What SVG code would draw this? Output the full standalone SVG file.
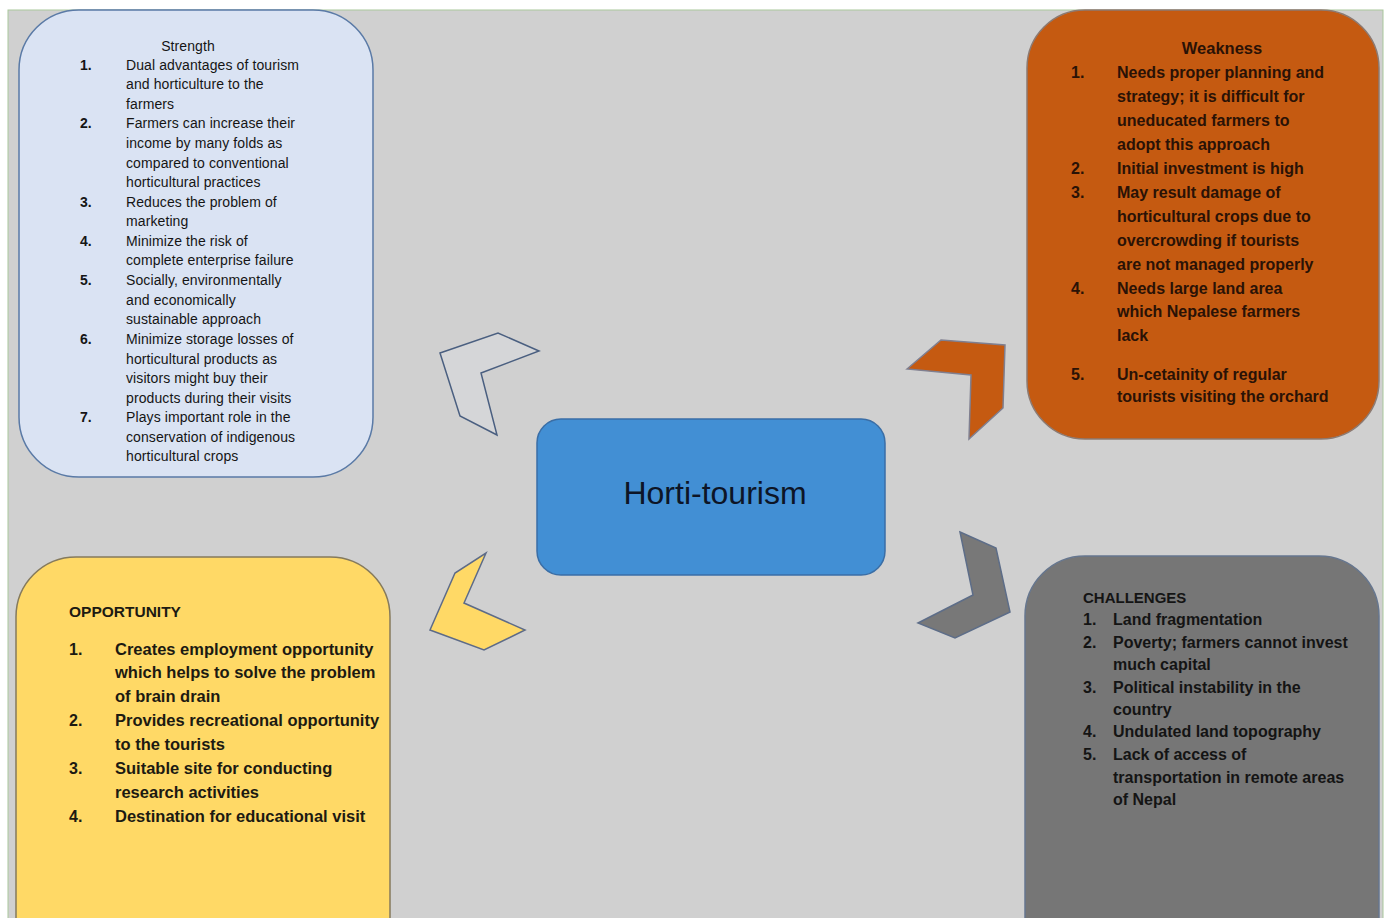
<svg xmlns="http://www.w3.org/2000/svg" width="1387" height="918" viewBox="0 0 1387 918">
<style>
.s{font-family:"Liberation Sans",Arial,sans-serif;font-size:14px;fill:#151515;letter-spacing:0.1px}
.sb{font-family:"Liberation Sans",Arial,sans-serif;font-size:14px;fill:#151515;font-weight:bold}
.w{font-family:"Liberation Sans",Arial,sans-serif;font-size:16px;font-weight:bold;fill:#2a1206}
.o{font-family:"Liberation Sans",Arial,sans-serif;font-size:16.5px;font-weight:bold;fill:#1c1a12}
.c{font-family:"Liberation Sans",Arial,sans-serif;font-size:16px;font-weight:bold;fill:#141414}
.n{font-size:16px}
.chev{stroke-width:1.5;stroke-linejoin:miter}
</style>
<rect x="0" y="0" width="1387" height="918" fill="#ffffff"/>
<rect x="8" y="10" width="1375" height="912" fill="#d0d0d0" stroke="#a9c79c" stroke-width="1"/>

<g id="connectors">
  <polygon class="chev" points="440,353 498,333 539,351 481,373 497,435 460,416" fill="#d5d6d8" stroke="#4a5f80"/>
  <polygon class="chev" points="907,369 941,340 1005,345 1003,408 969,439 971,375" fill="#c55a11" stroke="#7f7f90"/>
  <polygon class="chev" points="486,553 464,603 525,630 484,650 430,630 455,573" fill="#ffd966" stroke="#5d6b88"/>
  <polygon class="chev" points="960,532 996,548 1010,612 955,638 918,623 973,595" fill="#787878" stroke="#5d6d88"/>
</g>

<g id="center">
  <rect x="537" y="419" width="348" height="156" rx="24" fill="#428fd4" stroke="#3a6ea6" stroke-width="1.5"/>
  <text x="715" y="504" text-anchor="middle" style="font-family:'Liberation Sans',Arial,sans-serif;font-size:32px;fill:#0d1526">Horti-tourism</text>
</g>

<g id="strength">
  <rect x="19" y="10" width="354" height="467" rx="60" fill="#dae3f3" stroke="#5a7aa6" stroke-width="1.5"/>
  <text class="s" x="188" y="51" text-anchor="middle">Strength</text>
  <text class="sb" x="80" y="70">1.</text>
  <text class="s" x="126" y="70">Dual advantages of tourism</text>
  <text class="s" x="126" y="89">and horticulture to the</text>
  <text class="s" x="126" y="109">farmers</text>
  <text class="sb" x="80" y="128">2.</text>
  <text class="s" x="126" y="128">Farmers can increase their</text>
  <text class="s" x="126" y="148">income by many folds as</text>
  <text class="s" x="126" y="168">compared to conventional</text>
  <text class="s" x="126" y="187">horticultural practices</text>
  <text class="sb" x="80" y="207">3.</text>
  <text class="s" x="126" y="207">Reduces the problem of</text>
  <text class="s" x="126" y="226">marketing</text>
  <text class="sb" x="80" y="246">4.</text>
  <text class="s" x="126" y="246">Minimize the risk of</text>
  <text class="s" x="126" y="265">complete enterprise failure</text>
  <text class="sb" x="80" y="285">5.</text>
  <text class="s" x="126" y="285">Socially, environmentally</text>
  <text class="s" x="126" y="305">and economically</text>
  <text class="s" x="126" y="324">sustainable approach</text>
  <text class="sb" x="80" y="344">6.</text>
  <text class="s" x="126" y="344">Minimize storage losses of</text>
  <text class="s" x="126" y="364">horticultural products as</text>
  <text class="s" x="126" y="383">visitors might buy their</text>
  <text class="s" x="126" y="403">products during their visits</text>
  <text class="sb" x="80" y="422">7.</text>
  <text class="s" x="126" y="422">Plays important role in the</text>
  <text class="s" x="126" y="442">conservation of indigenous</text>
  <text class="s" x="126" y="461">horticultural crops</text>
</g>

<g id="weakness">
  <rect x="1027" y="10" width="352" height="429" rx="58" fill="#c55a11" stroke="#8c7a72" stroke-width="1.5"/>
  <text class="w" x="1222" y="54" text-anchor="middle" style="font-size:16.5px">Weakness</text>
  <text class="w n" x="1071" y="78">1.</text>
  <text class="w" x="1117" y="78">Needs proper planning and</text>
  <text class="w" x="1117" y="102">strategy; it is difficult for</text>
  <text class="w" x="1117" y="126">uneducated farmers to</text>
  <text class="w" x="1117" y="150">adopt this approach</text>
  <text class="w n" x="1071" y="174">2.</text>
  <text class="w" x="1117" y="174">Initial investment is high</text>
  <text class="w n" x="1071" y="198">3.</text>
  <text class="w" x="1117" y="198">May result damage of</text>
  <text class="w" x="1117" y="222">horticultural crops due to</text>
  <text class="w" x="1117" y="246">overcrowding if tourists</text>
  <text class="w" x="1117" y="270">are not managed properly</text>
  <text class="w n" x="1071" y="294">4.</text>
  <text class="w" x="1117" y="294">Needs large land area</text>
  <text class="w" x="1117" y="317">which Nepalese farmers</text>
  <text class="w" x="1117" y="341">lack</text>
  <text class="w n" x="1071" y="380">5.</text>
  <text class="w" x="1117" y="380">Un-cetainity of regular</text>
  <text class="w" x="1117" y="402">tourists visiting the orchard</text>
</g>

<g id="opportunity">
  <rect x="16" y="557" width="374" height="420" rx="60" fill="#ffd966" stroke="#857a5c" stroke-width="1.5"/>
  <text class="o" x="69" y="617" style="font-size:15.5px">OPPORTUNITY</text>
  <text class="o n" x="69" y="655">1.</text>
  <text class="o" x="115" y="655">Creates employment opportunity</text>
  <text class="o" x="115" y="678">which helps to solve the problem</text>
  <text class="o" x="115" y="702">of brain drain</text>
  <text class="o n" x="69" y="726">2.</text>
  <text class="o" x="115" y="726">Provides recreational opportunity</text>
  <text class="o" x="115" y="750">to the tourists</text>
  <text class="o n" x="69" y="774">3.</text>
  <text class="o" x="115" y="774">Suitable site for conducting</text>
  <text class="o" x="115" y="798">research activities</text>
  <text class="o n" x="69" y="822">4.</text>
  <text class="o" x="115" y="822">Destination for educational visit</text>
</g>

<g id="challenges">
  <rect x="1025" y="556" width="354" height="420" rx="60" fill="#767676" stroke="#66768e" stroke-width="1.5"/>
  <text class="c" x="1083" y="603" style="font-size:15px">CHALLENGES</text>
  <text class="c" x="1083" y="625">1.</text>
  <text class="c" x="1113" y="625">Land fragmentation</text>
  <text class="c" x="1083" y="648">2.</text>
  <text class="c" x="1113" y="648">Poverty; farmers cannot invest</text>
  <text class="c" x="1113" y="670">much capital</text>
  <text class="c" x="1083" y="693">3.</text>
  <text class="c" x="1113" y="693">Political instability in the</text>
  <text class="c" x="1113" y="715">country</text>
  <text class="c" x="1083" y="737">4.</text>
  <text class="c" x="1113" y="737">Undulated land topography</text>
  <text class="c" x="1083" y="760">5.</text>
  <text class="c" x="1113" y="760">Lack of access of</text>
  <text class="c" x="1113" y="783">transportation in remote areas</text>
  <text class="c" x="1113" y="805">of Nepal</text>
</g>
</svg>
